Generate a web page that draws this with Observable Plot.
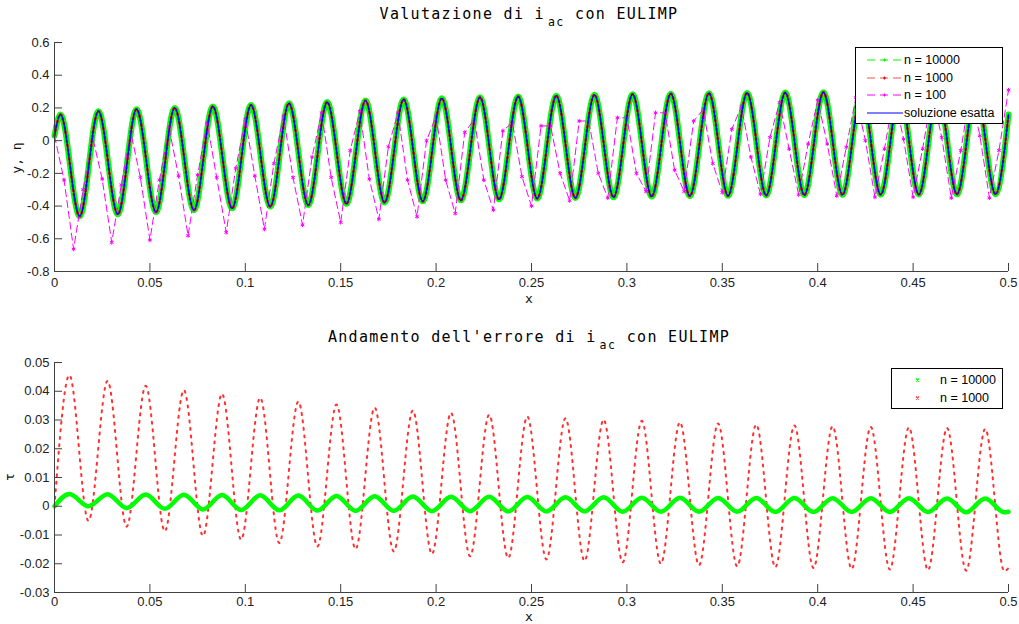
<!DOCTYPE html>
<html><head><meta charset="utf-8">
<script src="https://cdn.jsdelivr.net/npm/d3@7"></script>
<script src="https://cdn.jsdelivr.net/npm/@observablehq/plot@0.6"></script>
<style>
body{margin:0;background:#fff;}
#wrap{position:relative;width:1019px;height:624px;overflow:hidden;background:#fff;font-family:"Liberation Sans",Arial,sans-serif;}
.ttl{position:absolute;left:0;width:1058px;text-align:center;font-family:"DejaVu Sans Mono",monospace;font-size:15px;line-height:16px;letter-spacing:1.3px;color:#000;white-space:nowrap;}
.ttl sub{font-size:11.5px;letter-spacing:1.5px;position:relative;top:7px;vertical-align:baseline;line-height:0;margin-left:3px;}
.lab{position:absolute;font-family:"DejaVu Sans Mono",monospace;font-size:13px;line-height:12px;color:#111;white-space:nowrap;}
.legend{position:absolute;background:#fff;border:1px solid #000;box-sizing:border-box;font-size:12.5px;color:#000;}
.legend .row{position:absolute;left:0;height:16px;line-height:16px;white-space:nowrap;}
.legend svg{position:absolute;top:0;}
.legend span{position:absolute;top:0;}
.plot{position:absolute;left:0;}
</style></head>
<body><div id="wrap">
<div class="ttl" style="top:6px">Valutazione di i<sub>ac</sub> con EULIMP</div>
<div class="ttl" style="top:329px">Andamento dell'errore di i<sub>ac</sub> con EULIMP</div>
<div id="top" class="plot" style="top:0"></div>
<div id="bot" class="plot" style="top:320px"></div>
<div class="lab" style="left:525px;top:293px">x</div>
<div class="lab" style="left:525px;top:611px">x</div>
<div class="lab" style="left:17px;top:158px;transform:translate(-50%,-50%) rotate(-90deg)">y, η</div>
<div class="lab" style="left:10px;top:477px;transform:translate(-50%,-50%) rotate(-90deg)">τ</div>

<div class="legend" style="left:855px;top:47px;width:148px;height:77px;">
  <div class="row" style="top:4px;width:146px">
    <svg width="38" height="16" style="left:10px"><line x1="1" y1="8" x2="37" y2="8" stroke="#00ff00" stroke-width="1" stroke-dasharray="8 5"/><path d="M17,8h3M18.5,6.5v3" stroke="#00ff00" stroke-width="1"/></svg>
    <span style="left:48px">n = 10000</span></div>
  <div class="row" style="top:22px;width:146px">
    <svg width="38" height="16" style="left:10px"><line x1="1" y1="8" x2="37" y2="8" stroke="#ff0000" stroke-width="1" stroke-dasharray="8 5" opacity="0.7"/><path d="M17,8h3M18.5,6.5v3" stroke="#ff0000" stroke-width="1"/></svg>
    <span style="left:48px">n = 1000</span></div>
  <div class="row" style="top:39px;width:146px">
    <svg width="38" height="16" style="left:10px"><line x1="1" y1="8" x2="37" y2="8" stroke="#ff00ff" stroke-width="1" stroke-dasharray="8 5"/><path d="M17,8h3M18.5,6.5v3" stroke="#ff00ff" stroke-width="1"/></svg>
    <span style="left:48px">n = 100</span></div>
  <div class="row" style="top:57px;width:146px">
    <svg width="38" height="16" style="left:10px"><line x1="1" y1="8" x2="37" y2="8" stroke="#0000ff" stroke-width="1"/></svg>
    <span style="left:48px">soluzione esatta</span></div>
</div>

<div class="legend" style="left:891px;top:368px;width:112px;height:41px;">
  <div class="row" style="top:3px;width:110px">
    <svg width="10" height="16" style="left:21px"><path d="M3,6.5l3,3M6,6.5l-3,3" stroke="#00ff00" stroke-width="1.2"/></svg>
    <span style="left:48px">n = 10000</span></div>
  <div class="row" style="top:21px;width:110px">
    <svg width="10" height="16" style="left:21px"><path d="M3,6.5l3,3M6,6.5l-3,3" stroke="#ff4040" stroke-width="1.2"/></svg>
    <span style="left:48px">n = 1000</span></div>
</div>
</div>
<script>
// ---------- tick values / labels ----------
const X_TICKS = [0,0.05,0.1,0.15,0.2,0.25,0.3,0.35,0.4,0.45,0.5];
const X_TICK_LABELS = ["0","0.05","0.1","0.15","0.2","0.25","0.3","0.35","0.4","0.45","0.5"];
const TOP_Y_TICKS = [-0.8,-0.6,-0.4,-0.2,0,0.2,0.4,0.6];
const TOP_Y_TICK_LABELS = ["-0.8","-0.6","-0.4","-0.2","0","0.2","0.4","0.6"];
const BOT_Y_TICKS = [-0.03,-0.02,-0.01,0,0.01,0.02,0.03,0.04,0.05];
const BOT_Y_TICK_LABELS = ["-0.03","-0.02","-0.01","0","0.01","0.02","0.03","0.04","0.05"];

// ---------- exact solution (also n=10000 / n=1000, coincident at this scale) ----------
const exactStart = [0, 0.03];
const exactEnd = [0.5, 0.160];
const exactPeakT = [0.0031,0.0230,0.0430,0.0630,0.0830,0.1030,0.1229,0.1429,0.1630,0.1830,0.2030,0.2230,0.2430,0.2630,0.2830,0.3030,0.3230,0.3430,0.3630,0.3830,0.4030,0.4230,0.4430,0.4630,0.4830];
const exactPeakY = [0.160,0.180,0.192,0.200,0.209,0.218,0.228,0.236,0.245,0.252,0.259,0.265,0.270,0.275,0.280,0.284,0.287,0.290,0.292,0.294,0.296,0.297,0.298,0.299,0.300];
const exactTroughT = [0.0132,0.0332,0.0532,0.0731,0.0931,0.1131,0.1330,0.1530,0.1730,0.1930,0.2130,0.2330,0.2530,0.2730,0.2930,0.3130,0.3330,0.3530,0.3730,0.3930,0.4130,0.4330,0.4530,0.4730,0.4932];
const exactTroughY = [-0.462,-0.450,-0.437,-0.425,-0.414,-0.403,-0.394,-0.386,-0.378,-0.371,-0.365,-0.359,-0.354,-0.350,-0.346,-0.342,-0.339,-0.337,-0.335,-0.333,-0.331,-0.330,-0.329,-0.328,-0.327];

// ---------- n = 100 (101 samples, step h = 0.005) ----------
const n100Values = [
 0.03,-0.24,-0.663,-0.30, 0.02,-0.235,-0.622,-0.27, 0.05,-0.225,-0.608,-0.24,
 0.08,-0.215,-0.581,-0.21, 0.11,-0.225,-0.561,-0.17, 0.13,-0.215,-0.541,-0.14,
 0.15,-0.225,-0.515,-0.10, 0.17,-0.225,-0.50,-0.06, 0.18,-0.235,-0.48,-0.037,
 0.17,-0.24,-0.465,0.0, 0.15,-0.24,-0.445,0.05, 0.13,-0.24,-0.424,0.06,
 0.11,-0.22,-0.40,0.09, 0.09,-0.20,-0.367,0.12, 0.12,-0.20,-0.35,0.14,
 0.14,-0.20,-0.31,0.17, 0.17,-0.18,-0.31,0.12, 0.19,-0.14,-0.317,0.07,
 0.21,-0.10,-0.327,0.02, 0.234,-0.05,-0.33,-0.02, 0.248,-0.02,-0.337,-0.04,
 0.264,0.0,-0.345,-0.05, 0.28,0.01,-0.345,-0.05, 0.29,0.02,-0.35,-0.06,
 0.30,0.03,-0.35,-0.06, 0.309];
const n100Step = 0.5 / 100;

// ---------- error tau ----------
const errStart = [0, 0];
const errPeakT = [0.0078,0.0278,0.0478,0.0678,0.0878,0.1078,0.1278,0.1478,0.1678,0.1878,0.2078,0.2278,0.2478,0.2678,0.2878,0.3078,0.3278,0.3478,0.3678,0.3878,0.4078,0.4278,0.4478,0.4678,0.4878];
const errTroughT = [0.0178,0.0378,0.0578,0.0778,0.0978,0.1178,0.1378,0.1578,0.1778,0.1978,0.2178,0.2378,0.2578,0.2778,0.2978,0.3178,0.3378,0.3578,0.3778,0.3978,0.4178,0.4378,0.4578,0.4778,0.4978];
const err1000PeakY = [0.0456,0.0436,0.0419,0.0404,0.0391,0.0377,0.0364,0.0354,0.0343,0.0333,0.0325,0.0318,0.0312,0.0306,0.0301,0.0297,0.0292,0.0288,0.0284,0.0281,0.0278,0.0276,0.0274,0.0272,0.0269];
const err1000TroughY = [-0.0051,-0.0071,-0.0087,-0.0103,-0.0116,-0.0128,-0.0140,-0.0149,-0.0157,-0.0166,-0.0174,-0.0180,-0.0185,-0.0190,-0.0195,-0.0200,-0.0205,-0.0209,-0.0212,-0.0215,-0.0218,-0.0220,-0.0222,-0.0224,-0.0226];
const err1000End = [0.5, -0.0215];
const err10000PeakY = [0.0043,0.0042,0.0041,0.0040,0.0039,0.0038,0.0037,0.0036,0.0035,0.0034,0.0033,0.0033,0.0032,0.0031,0.0031,0.0030,0.0030,0.0029,0.0029,0.0029,0.0028,0.0028,0.0028,0.0027,0.0027];
const err10000TroughY = [0.0000,-0.0006,-0.0009,-0.0011,-0.0013,-0.0014,-0.0015,-0.0016,-0.0016,-0.0017,-0.0017,-0.0018,-0.0018,-0.0018,-0.0019,-0.0019,-0.0019,-0.0019,-0.0020,-0.0020,-0.0020,-0.0020,-0.0020,-0.0021,-0.0021];
const err10000End = [0.5, -0.0019];

// ---------- build tables ----------
function series(start, pT, pY, tT, tY, end) {
  const pts = [{t: start[0], y: start[1]}];
  pT.forEach((t, i) => pts.push({t, y: pY[i]}));
  tT.forEach((t, i) => pts.push({t, y: tY[i]}));
  pts.push({t: end[0], y: end[1]});
  return pts.sort((a, b) => a.t - b.t);
}
const exact = series(exactStart, exactPeakT, exactPeakY, exactTroughT, exactTroughY, exactEnd);
const n100 = n100Values.map((y, k) => ({t: k * n100Step, y}));
const e1000 = series(errStart, errPeakT, err1000PeakY, errTroughT, err1000TroughY, err1000End);
const e10000 = series(errStart, errPeakT, err10000PeakY, errTroughT, err10000TroughY, err10000End);

const AX = "#404040";
const W = 1019, ML = 54, MR = 11;
function axes(yTicks, yLabels, yMin, frameH, xPad) {
  const fx = new Map(X_TICKS.map((v, i) => [v, X_TICK_LABELS[i]]));
  const fy = new Map(yTicks.map((v, i) => [v, yLabels[i]]));
  const frameW = W - ML - MR;
  return [
    Plot.ruleX(X_TICKS, {insetTop: frameH - 8, stroke: AX}),
    Plot.ruleY(yTicks, {insetRight: frameW - 8, stroke: AX}),
    Plot.ruleX([X_TICKS[0]], {stroke: AX}),
    Plot.ruleY([yMin], {stroke: AX}),
    Plot.axisX({ticks: X_TICKS, tickSize: 0, tickPadding: xPad, tickFormat: d => fx.get(d), label: null}),
    Plot.axisY({ticks: yTicks, tickSize: 0, tickPadding: 5, tickFormat: d => fy.get(d), label: null})
  ];
}
const style = {fontFamily: "'Liberation Sans', Arial, sans-serif", fontSize: "13px", color: "#222", background: "transparent", overflow: "visible"};

const topH = 310, topMT = 42, topMB = 39;
const topPlot = Plot.plot({
  width: W, height: topH, marginLeft: ML, marginRight: MR, marginTop: topMT, marginBottom: topMB,
  style,
  x: {domain: [0, 0.5]},
  y: {domain: [-0.8, 0.6]},
  marks: [
    Plot.line(exact, {x: "t", y: "y", curve: "monotone-x", stroke: "#00ff00", strokeWidth: 6}),
    Plot.line(exact, {x: "t", y: "y", curve: "monotone-x", stroke: "#ff0000", strokeWidth: 2.5, strokeDasharray: "1.5 3"}),
    Plot.line(n100, {x: "t", y: "y", stroke: "#ff00ff", strokeWidth: 1, strokeDasharray: "7 4"}),
    Plot.dot(n100, {x: "t", y: "y", symbol: "asterisk", r: 2, stroke: "#ff00ff", strokeWidth: 1}),
    Plot.line(exact, {x: "t", y: "y", curve: "monotone-x", stroke: "#0000ff", strokeWidth: 1.3}),
    ...axes(TOP_Y_TICKS, TOP_Y_TICK_LABELS, -0.8, topH - topMT - topMB, 6)
  ]
});
document.getElementById("top").appendChild(topPlot);

const botH = 304, botMT = 42, botMB = 32;
const botPlot = Plot.plot({
  width: W, height: botH, marginLeft: ML, marginRight: MR, marginTop: botMT, marginBottom: botMB,
  style,
  x: {domain: [0, 0.5]},
  y: {domain: [-0.03, 0.05]},
  marks: [
    Plot.line(e1000, {x: "t", y: "y", curve: "monotone-x", stroke: "#ff3030", strokeWidth: 2, strokeDasharray: "2 5.5"}),
    Plot.line(e10000, {x: "t", y: "y", curve: "monotone-x", stroke: "#00ff00", strokeWidth: 4.5}),
    ...axes(BOT_Y_TICKS, BOT_Y_TICK_LABELS, -0.03, botH - botMT - botMB, 4)
  ]
});
document.getElementById("bot").appendChild(botPlot);
</script>
</body></html>
